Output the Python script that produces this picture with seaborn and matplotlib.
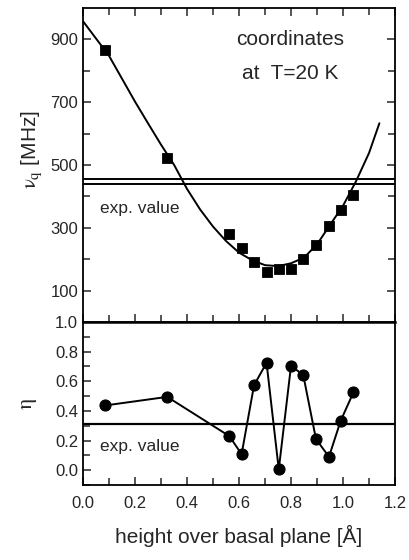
import numpy as np
import pandas as pd
import seaborn as sns
import matplotlib.pyplot as plt
from matplotlib.ticker import MultipleLocator, FixedLocator

# data
height = [0.085, 0.324, 0.563, 0.610, 0.658, 0.706, 0.753, 0.800, 0.847, 0.896, 0.946, 0.991, 1.040]
nu_q = [866, 522, 281, 237, 191, 160, 168, 170, 200, 244, 305, 357, 406]
eta = [0.437, 0.495, 0.23, 0.108, 0.574, 0.725, 0.005, 0.703, 0.644, 0.211, 0.09, 0.333, 0.525]

fit_x = [0.0, 0.05, 0.1, 0.15, 0.2, 0.25, 0.3, 0.35, 0.4, 0.45, 0.5, 0.55, 0.6,
         0.65, 0.7, 0.75, 0.8, 0.85, 0.9, 0.95, 1.0, 1.05, 1.1, 1.14]
fit_nu = [958, 903, 848, 775, 702, 633, 565, 501, 424, 359, 304, 258, 221,
          197, 181, 178, 187, 205, 247, 309, 370, 448, 538, 633]

nu_exp = [455, 440]
eta_exp = 0.313

pts = pd.DataFrame({"height": height, "nu_q": nu_q, "eta": eta})
fit = pd.DataFrame({"height": fit_x, "nu_q": fit_nu})

sns.set_theme(style="ticks")
plt.rcParams["font.family"] = ["Liberation Sans", "DejaVu Sans"]
plt.rcParams["mathtext.fontset"] = "stix"
plt.rcParams["xtick.direction"] = "in"
plt.rcParams["ytick.direction"] = "in"

fig = plt.figure(figsize=(4.1, 5.6), dpi=100)
ax1 = fig.add_axes([0.2024, 0.425, 0.761, 0.5607])
ax2 = fig.add_axes([0.2024, 0.1339, 0.761, 0.291])

# top panel: nu_q
sns.lineplot(x="height", y="nu_q", data=fit, ax=ax1, color="black", lw=1.4)
sns.scatterplot(x="height", y="nu_q", data=pts, ax=ax1, marker="s", s=55,
                color="black", edgecolor="black", zorder=3)
for v in nu_exp:
    ax1.axhline(v, color="black", lw=1.4)
ax1.text(0.065, 363, "exp. value", fontsize=12.5, va="center", ha="left")
ax1.text(0.796, 900, "coordinates", fontsize=15, ha="center", va="center")
ax1.text(0.796, 792, "at  T=20 K", fontsize=15, ha="center", va="center")

ax1.set_xlim(0, 1.2)
ax1.set_ylim(0, 1000)
ax1.xaxis.set_major_locator(MultipleLocator(0.2))
ax1.xaxis.set_minor_locator(MultipleLocator(0.1))
ax1.yaxis.set_major_locator(FixedLocator([100, 300, 500, 700, 900]))
ax1.yaxis.set_minor_locator(FixedLocator([200, 400, 600, 800]))
ax1.tick_params(which="both", top=True, right=True, labelbottom=False, width=1.1)
ax1.tick_params(which="major", length=6)
ax1.tick_params(which="minor", length=5)
ax1.tick_params(axis="y", labelsize=12)
ax1.set_xlabel("")
ax1.set_ylabel(r"$\mathrm{\nu_q}$ [MHz]", fontsize=15)
ax1.yaxis.set_label_coords(-0.125, 0.55)

# bottom panel: eta
sns.lineplot(x="height", y="eta", data=pts, ax=ax2, color="black", lw=1.4,
             marker="o", markersize=8, markeredgecolor="black")
ax2.axhline(eta_exp, color="black", lw=1.6)
ax2.text(0.065, 0.157, "exp. value", fontsize=12.5, va="center", ha="left")

ax2.set_xlim(0, 1.2)
ax2.set_ylim(-0.1, 1.0)
ax2.xaxis.set_major_locator(MultipleLocator(0.2))
ax2.xaxis.set_minor_locator(MultipleLocator(0.1))
ax2.yaxis.set_major_locator(MultipleLocator(0.2))
ax2.yaxis.set_minor_locator(MultipleLocator(0.1))
ax2.tick_params(which="both", top=False, right=False, width=1.1)
ax2.tick_params(which="major", length=6)
ax2.tick_params(which="minor", length=5)
ax2.tick_params(axis="x", labelsize=12, pad=8)
ax2.tick_params(axis="y", labelsize=12)
ax2.set_ylabel(r"$\mathrm{\eta}$", fontsize=16)
ax2.yaxis.set_label_coords(-0.14, 0.5)
ax2.set_xlabel("height over basal plane [Å]", fontsize=15, labelpad=10)

for ax in (ax1, ax2):
    for sp in ax.spines.values():
        sp.set_linewidth(1.3)
        sp.set_color("black")
ax2.spines["top"].set_linewidth(1.8)

fig.savefig("out.png", dpi=100)
